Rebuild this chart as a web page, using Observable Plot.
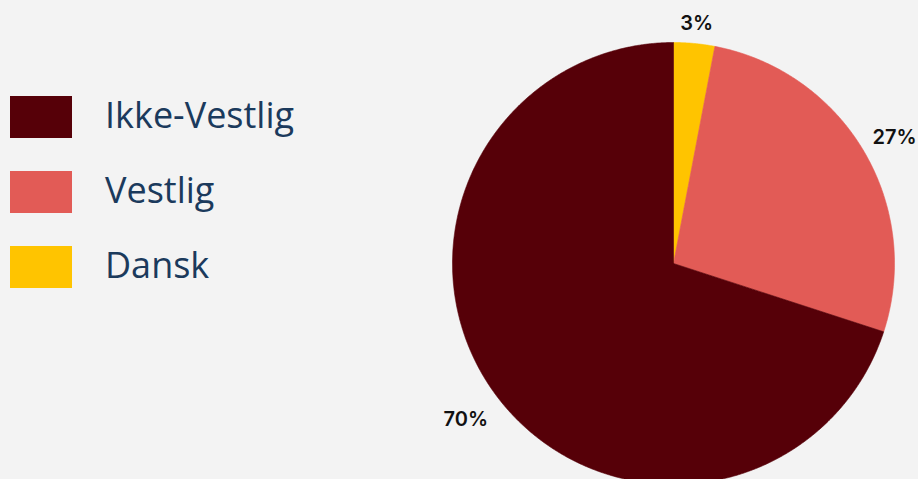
<!DOCTYPE html>
<html>
<head>
<meta charset="utf-8">
<script src="https://cdn.jsdelivr.net/npm/d3@7"></script>
<script src="https://cdn.jsdelivr.net/npm/@observablehq/plot@0.6"></script>
<style>
  html, body { margin: 0; padding: 0; background: #f3f3f3; width: 918px; height: 479px; overflow: hidden; }
  #wrap { position: relative; width: 918px; height: 479px; }
  #legend { position: absolute; left: 10px; top: 96px; font-family: "Open Sans", sans-serif; }
  .row { display: flex; align-items: center; height: 42px; margin-bottom: 33px; }
  .sw { width: 62px; height: 42px; flex: none; }
  .lab { margin-left: 33px; font-size: 36px; line-height: 42px; color: #1b3a5c; position: relative; top: -2px; }
</style>
</head>
<body>
<div id="wrap">
  <div id="chart"></div>
  <div id="legend"></div>
</div>
<script>
// Data
const categories = ["Ikke-Vestlig", "Vestlig", "Dansk"];
const values = [70, 27, 3];
const labels = ["70%", "27%", "3%"];
const colors = ["#560008", "#e25b56", "#ffc400"];

// Pie runs clockwise from 12 o'clock: Dansk, Vestlig, Ikke-Vestlig
const pieOrder = [2, 1, 0];
const radiusPx = 221;
const arcs = d3.pie().sort(null).value(i => values[i])(pieOrder);

const poly = [];
arcs.forEach(a => {
  const name = categories[a.data];
  poly.push({name, x: 0, y: 0});
  const n = Math.max(2, Math.ceil((a.endAngle - a.startAngle) / 0.005));
  for (let k = 0; k <= n; k++) {
    const t = a.startAngle + (a.endAngle - a.startAngle) * k / n;
    poly.push({name, x: Math.sin(t), y: Math.cos(t)});
  }
  poly.push({name, x: 0, y: 0});
});

const fontSize = 20;
const labelData = arcs.map(a => {
  const mid = (a.startAngle + a.endAngle) / 2;
  const txt = labels[a.data];
  const w = txt.length * fontSize * 0.65, h = fontSize;
  const s = Math.sin(mid), c = Math.cos(mid);
  const rPx = radiusPx + 14 + Math.abs(s) * w / 2 + Math.abs(c) * h / 2;
  return {text: txt, x: s * rPx / radiusPx, y: c * rPx / radiusPx};
});

const cx = 673, cy = 263;
const chart = Plot.plot({
  width: 918,
  height: 479,
  margin: 0,
  style: {background: "transparent", overflow: "hidden"},
  x: {domain: [-1, 1], range: [cx - radiusPx, cx + radiusPx], axis: null},
  y: {domain: [-1, 1], range: [cy + radiusPx, cy - radiusPx], axis: null},
  color: {domain: categories, range: colors},
  marks: [
    Plot.line(poly, {x: "x", y: "y", z: "name", fill: "name", stroke: "name", strokeWidth: 0.6, curve: "linear"}),
    Plot.text(labelData, {x: "x", y: "y", text: "text", fontSize: fontSize, fontWeight: 600, dy: 5,
      fontFamily: "Inter, sans-serif", fill: "#111111", textAnchor: "middle", lineAnchor: "middle"})
  ]
});
document.getElementById("chart").appendChild(chart);

const legend = document.getElementById("legend");
categories.forEach((c, i) => {
  const row = document.createElement("div");
  row.className = "row";
  const sw = document.createElement("div");
  sw.className = "sw";
  sw.style.background = colors[i];
  const lab = document.createElement("div");
  lab.className = "lab";
  lab.textContent = c;
  row.appendChild(sw);
  row.appendChild(lab);
  legend.appendChild(row);
});
</script>
</body>
</html>
